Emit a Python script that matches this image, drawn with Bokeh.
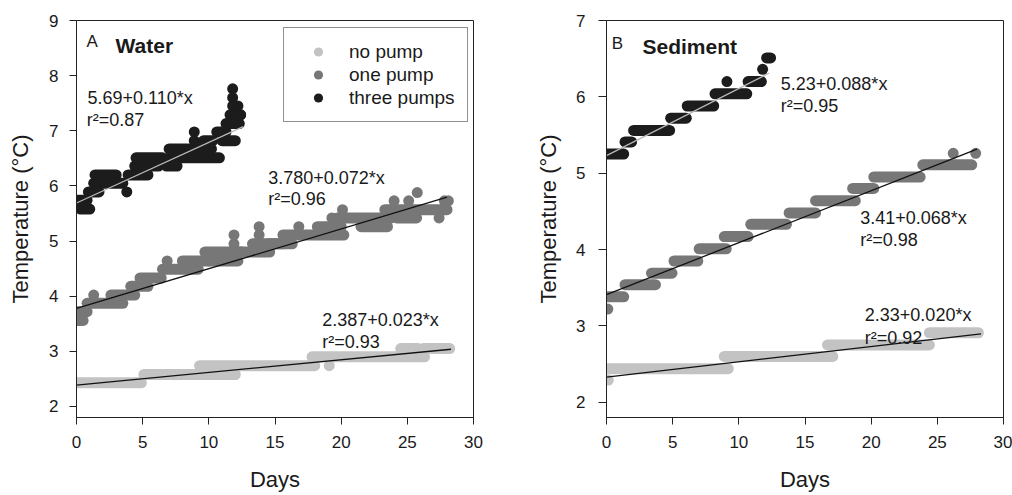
from bokeh.plotting import figure
from bokeh.layouts import row
from bokeh.models import FixedTicker, Legend, LegendItem, Label
from bokeh.embed import file_html
from bokeh.resources import INLINE

FONT = "Liberation Sans"

# ---------------- data ----------------
# Runs of consecutive logged readings at one temperature: start day, end day, temperature (°C),
# plus isolated readings (day, temperature).

# Panel A: Water
water_none_x0 = [0.0, 5.1, 9.3, 17.8, 24.5, 26.2]
water_none_x1 = [4.9, 12.0, 18.0, 26.3, 25.8, 28.2]
water_none_t = [2.43, 2.58, 2.74, 2.90, 3.05, 3.05]
water_none_dx = [19.1]
water_none_dt = [2.74]

water_one_x0 = [0.0, 0.1, 0.8, 2.6, 4.1, 4.8, 6.5, 8.0, 10.0, 9.7, 12.0, 13.3, 14.5, 15.6, 18.2, 19.7, 21.5, 23.3, 24.2, 25.0]
water_one_x1 = [0.8, 0.5, 3.5, 4.4, 5.4, 6.4, 9.2, 10.0, 12.2, 12.5, 14.6, 15.6, 16.3, 20.2, 20.0, 23.8, 23.5, 25.0, 25.7, 28.0]
water_one_t = [3.72, 3.56, 3.87, 4.02, 4.18, 4.33, 4.49, 4.64, 4.64, 4.80, 4.80, 4.95, 4.95, 5.11, 5.26, 5.42, 5.26, 5.57, 5.42, 5.57]
water_one_dx = [1.3, 6.85, 11.9, 11.9, 13.8, 13.8, 16.8, 19.3, 20.1, 24.0, 25.1, 25.75, 27.4, 27.8, 28.1]
water_one_dt = [4.02, 4.64, 4.95, 5.11, 5.11, 5.26, 5.26, 5.42, 5.57, 5.73, 5.73, 5.88, 5.42, 5.73, 5.73]

water_three_x0 = [0.0, 0.3, 0.9, 1.3, 1.4, 3.9, 4.4, 4.5, 6.8, 7.0, 7.0, 9.6, 10.6, 11.0, 11.3, 11.6]
water_three_x1 = [0.8, 1.0, 1.7, 3.5, 3.0, 5.4, 6.2, 6.5, 7.6, 10.8, 10.2, 10.3, 11.3, 12.0, 12.3, 12.4]
water_three_t = [5.74, 5.58, 5.89, 6.05, 6.20, 6.20, 6.36, 6.51, 6.36, 6.51, 6.67, 6.82, 6.98, 6.82, 7.13, 7.29]
water_three_dx = [3.8, 8.9, 8.9, 11.8, 12.2, 11.8, 11.8, 12.4]
water_three_dt = [5.89, 6.98, 6.82, 7.45, 7.45, 7.60, 7.76, 7.29]

# Panel B: Sediment
sed_none_x0 = [0.0, 8.9, 16.7, 24.4]
sed_none_x1 = [9.2, 17.1, 24.4, 28.1]
sed_none_t = [2.44, 2.60, 2.75, 2.91]
sed_none_dx = [0.14]
sed_none_dt = [2.29]

sed_one_x0 = [0.1, 1.4, 3.4, 5.1, 7.0, 8.9, 10.9, 13.8, 15.8, 18.6, 20.2, 23.9]
sed_one_x1 = [1.3, 3.7, 4.95, 6.9, 9.05, 10.7, 13.6, 15.8, 18.8, 20.2, 23.7, 27.6]
sed_one_t = [3.38, 3.54, 3.69, 3.85, 4.01, 4.17, 4.33, 4.48, 4.64, 4.80, 4.95, 5.11]
sed_one_dx = [0.1, 26.2, 27.9]
sed_one_dt = [3.22, 5.26, 5.26]

sed_three_x0 = [0.0, 1.4, 2.05, 4.85, 6.1, 8.2, 10.7, 12.1]
sed_three_x1 = [1.3, 1.9, 4.77, 6.03, 8.1, 10.6, 11.7, 12.4]
sed_three_t = [5.25, 5.41, 5.56, 5.72, 5.88, 6.04, 6.20, 6.51]
sed_three_dx = [9.1, 11.8]
sed_three_dt = [6.20, 6.36]

# Linear fits (no pump, one pump, three pumps)
water_fit_a = [2.387, 3.780, 5.69]
water_fit_b = [0.023, 0.072, 0.110]
water_fit_end = [28.3, 28.0, 12.6]
water_fit_eq = ["2.387+0.023*x", "3.780+0.072*x", "5.69+0.110*x"]
water_fit_r2 = ["r²=0.93", "r²=0.96", "r²=0.87"]

sed_fit_a = [2.33, 3.41, 5.23]
sed_fit_b = [0.020, 0.068, 0.088]
sed_fit_end = [28.3, 28.0, 12.3]
sed_fit_eq = ["2.33+0.020*x", "3.41+0.068*x", "5.23+0.088*x"]
sed_fit_r2 = ["r²=0.92", "r²=0.98", "r²=0.95"]

series_labels = ["no pump", "one pump", "three pumps"]
x_ticks = [0, 5, 10, 15, 20, 25, 30]
water_y_ticks = [2, 3, 4, 5, 6, 7, 8, 9]
sed_y_ticks = [2, 3, 4, 5, 6, 7]

COLORS = ["#c3c3c3", "#777777", "#1c1c1c"]
FIT_COLORS = ["#111111", "#111111", "#b8b8b8"]
INK = "#1a1a1a"
HEIGHT = 495


def make_panel(width, border_left, border_right, y_end, y_ticks, series, fit_a, fit_b, fit_end,
               eq_pos, tick_out, label_standoff, axis_label_standoff):
    p = figure(width=width, height=HEIGHT, x_range=(0, 30), y_range=(1.8, y_end),
               output_backend="svg", toolbar_location=None,
               min_border_left=border_left, min_border_right=border_right,
               min_border_top=20, min_border_bottom=78)
    p.grid.visible = False
    p.outline_line_color = "#222222"
    p.outline_line_width = 1
    p.background_fill_color = "white"
    p.border_fill_color = "white"

    renderers = []
    for (x0, x1, t, dx, dt), col in zip(series, COLORS):
        p.segment(x0=x0, y0=t, x1=x1, y1=t, line_width=11, line_color=col, line_cap="round")
        r = p.scatter(dx, dt, size=11, marker="circle", fill_color=col, line_color=None)
        renderers.append(r)
    for a, b, xe, col in zip(fit_a, fit_b, fit_end, FIT_COLORS):
        p.line([0, xe], [a, a + b * xe], line_color=col, line_width=1.3)

    p.xaxis.ticker = FixedTicker(ticks=x_ticks)
    p.yaxis.ticker = FixedTicker(ticks=y_ticks)
    p.xaxis.axis_label = "Days"
    p.yaxis.axis_label = "Temperature (°C)"
    for ax in (p.xaxis[0], p.yaxis[0]):
        ax.axis_line_color = "#222222"
        ax.major_tick_line_color = "#222222"
        ax.major_tick_in = 0
        ax.major_tick_out = tick_out
        ax.minor_tick_line_color = None
        ax.major_label_text_font = FONT
        ax.major_label_text_font_size = "17px"
        ax.major_label_text_color = INK
        ax.major_label_standoff = label_standoff
        ax.axis_label_text_font = FONT
        ax.axis_label_text_font_size = "22px"
        ax.axis_label_text_font_style = "normal"
        ax.axis_label_text_color = INK
    p.yaxis[0].axis_label_standoff = axis_label_standoff
    p.xaxis[0].major_tick_out = 7
    p.xaxis[0].major_label_standoff = 11
    p.xaxis[0].axis_label_standoff = 16

    for (xe, ye, txt) in eq_pos:
        p.add_layout(Label(x=xe, y=ye, text=txt, text_font=FONT, text_font_size="18px",
                           text_color=INK, text_baseline="alphabetic", text_align="left"))
    return p, renderers


water_series = [
    (water_none_x0, water_none_x1, water_none_t, water_none_dx, water_none_dt),
    (water_one_x0, water_one_x1, water_one_t, water_one_dx, water_one_dt),
    (water_three_x0, water_three_x1, water_three_t, water_three_dx, water_three_dt),
]
sed_series = [
    (sed_none_x0, sed_none_x1, sed_none_t, sed_none_dx, sed_none_dt),
    (sed_one_x0, sed_one_x1, sed_one_t, sed_one_dx, sed_one_dt),
    (sed_three_x0, sed_three_x1, sed_three_t, sed_three_dx, sed_three_dt),
]

water_eq_pos = [
    (18.57, 3.564, water_fit_eq[0]), (18.57, 3.17, water_fit_r2[0]),
    (14.49, 6.14, water_fit_eq[1]), (14.49, 5.76, water_fit_r2[1]),
    (0.83, 7.595, water_fit_eq[2]), (0.78, 7.20, water_fit_r2[2]),
]
sed_eq_pos = [
    (19.52, 3.144, sed_fit_eq[0]), (19.52, 2.843, sed_fit_r2[0]),
    (19.17, 4.415, sed_fit_eq[1]), (19.17, 4.127, sed_fit_r2[1]),
    (13.17, 6.172, sed_fit_eq[2]), (13.17, 5.874, sed_fit_r2[2]),
]

pA, rA = make_panel(505, 76, 32, 9, water_y_ticks, water_series, water_fit_a, water_fit_b,
                    water_fit_end, water_eq_pos, 7, 11, 13)
pB, rB = make_panel(507, 101, 9, 7, sed_y_ticks, sed_series, sed_fit_a, sed_fit_b,
                    sed_fit_end, sed_eq_pos, 8, 13, 12)

pA.add_layout(Label(x=0.76, y=8.62, text="A", text_font=FONT, text_font_size="17px",
                    text_color=INK, text_baseline="alphabetic"))
pA.add_layout(Label(x=2.95, y=8.55, text="Water", text_font=FONT, text_font_size="21px",
                    text_font_style="bold", text_color=INK, text_baseline="alphabetic"))
pB.add_layout(Label(x=0.40, y=6.696, text="B", text_font=FONT, text_font_size="17px",
                    text_color=INK, text_baseline="alphabetic"))
pB.add_layout(Label(x=2.72, y=6.66, text="Sediment", text_font=FONT, text_font_size="21px",
                    text_font_style="bold", text_color=INK, text_baseline="alphabetic"))

legend = Legend(items=[LegendItem(label=l, renderers=[r]) for l, r in zip(series_labels, rA)],
                location=(207, 295), orientation="vertical",
                border_line_color="#222222", border_line_width=1,
                background_fill_color="white", background_fill_alpha=1.0,
                padding=12, spacing=0, margin=0,
                glyph_height=23, glyph_width=44, label_height=23, label_standoff=9,
                label_text_font=FONT, label_text_font_size="19px", label_text_color=INK)
pA.add_layout(legend)

layout = row(pA, pB)
open("out.html", "w").write(file_html(layout, INLINE))
